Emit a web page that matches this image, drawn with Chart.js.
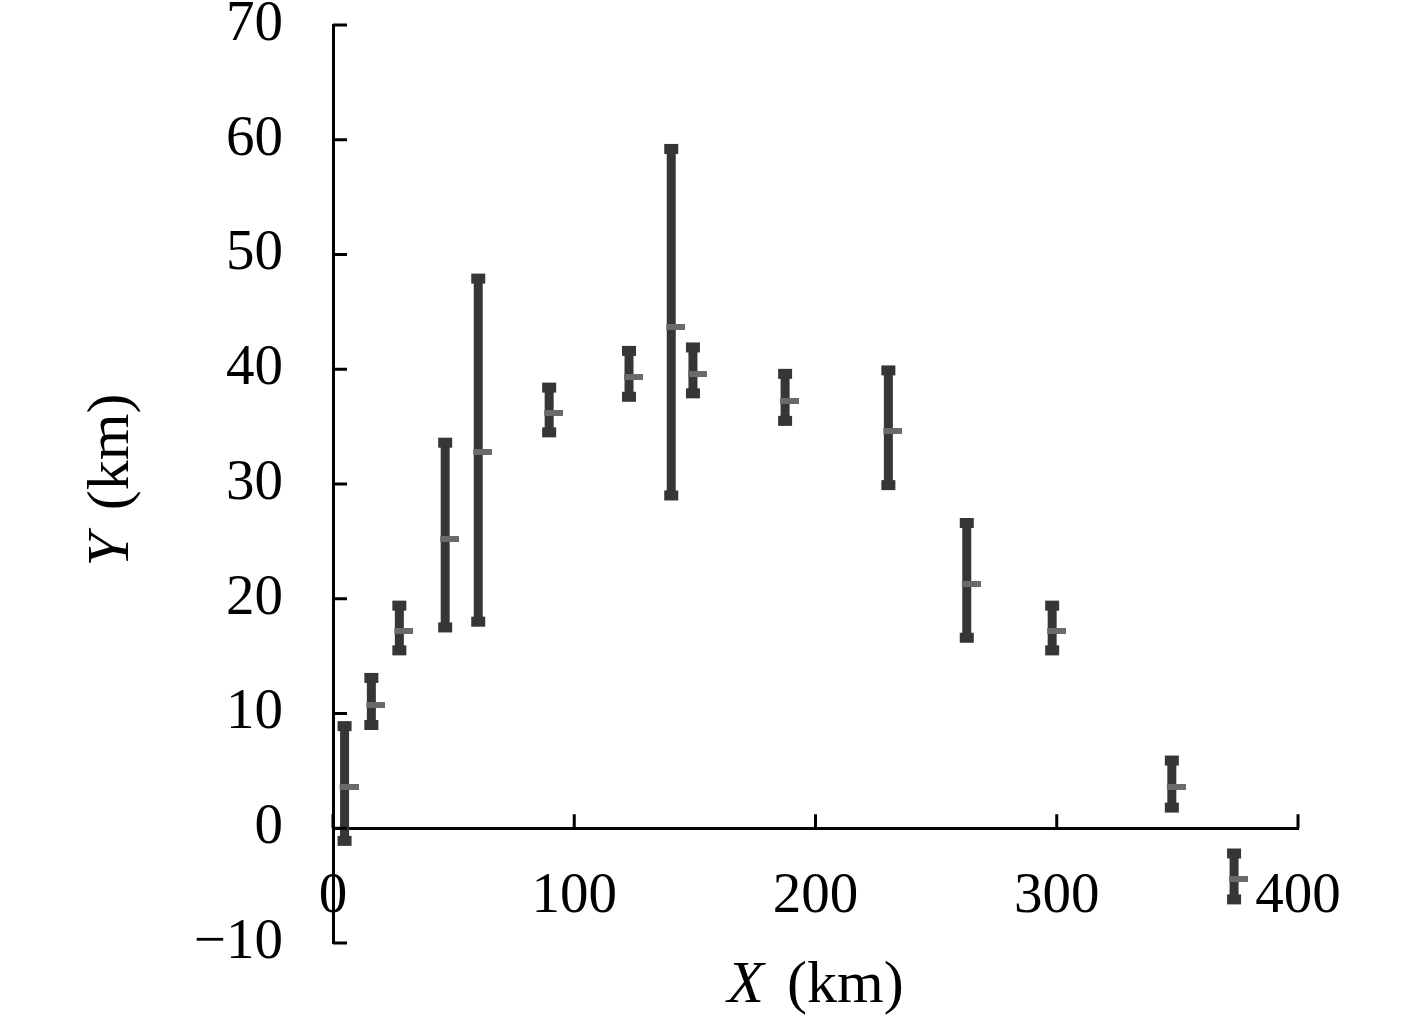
<!DOCTYPE html>
<html>
<head>
<meta charset="utf-8">
<script src="https://cdn.jsdelivr.net/npm/chart.js@4"></script>
<style>
  html, body { margin: 0; padding: 0; background: #fff; }
  canvas { display: block; }
</style>
</head>
<body>
<canvas id="err-chart" width="1417" height="1023"></canvas>
<script>
// positions along X (km) and the estimated Y (km) with its range
const xKm = [4.8, 15.9, 27.5, 46.5, 60.2, 89.6, 122.7, 140.2, 149.2, 187.4, 230.2, 262.7, 298.1, 347.7, 373.5];
const yMean = [3.6, 10.7, 17.2, 25.2, 32.8, 36.2, 39.3, 43.7, 39.6, 37.2, 34.6, 21.3, 17.2, 3.6, -4.4];
const yHigh = [8.9, 13.1, 19.4, 33.6, 47.9, 38.4, 41.6, 59.2, 41.9, 39.6, 39.9, 26.6, 19.4, 5.9, -2.2];
const yLow = [-1.1, 9.0, 15.5, 17.5, 18.0, 34.5, 37.6, 29.0, 37.9, 35.5, 29.9, 16.6, 15.5, 1.8, -6.2];

const xTicks = [0, 100, 200, 300, 400];
const yTicks = [-10, 0, 10, 20, 30, 40, 50, 60, 70];

const SERIF = "'Liberation Serif', 'DejaVu Serif', serif";
const barColor = '#363636';
const meanColor = '#6a6a6a';

// mean marker: short dash a little to the right of the bar
const dash = document.createElement('canvas');
dash.width = 28; dash.height = 6;
(function () {
	const c = dash.getContext('2d');
	c.fillStyle = meanColor;
	c.fillRect(9, 0, 19, 6);
})();

const errorBars = {
	id: 'errorBars',
	beforeDatasetsDraw(chart) {
		const ctx = chart.ctx, xs = chart.scales.x, ys = chart.scales.y;
		ctx.save();
		ctx.fillStyle = barColor;
		for (let i = 0; i < xKm.length; i++) {
			const px = xs.getPixelForValue(xKm[i]);
			const top = ys.getPixelForValue(yHigh[i]);
			const bot = ys.getPixelForValue(yLow[i]);
			ctx.fillRect(px - 4.5, top, 9, bot - top);
			ctx.fillRect(px - 7, top - 5, 14, 10);
			ctx.fillRect(px - 7, bot - 5, 14, 10);
		}
		ctx.restore();
	}
};

// inward tick marks and the two axis titles
const axisDecor = {
	id: 'axisDecor',
	afterDraw(chart) {
		const ctx = chart.ctx, xs = chart.scales.x, ys = chart.scales.y;
		const x0 = xs.getPixelForValue(0), y0 = ys.getPixelForValue(0);
		ctx.save();
		ctx.strokeStyle = '#000';
		ctx.lineWidth = 3;
		ctx.beginPath();
		yTicks.forEach(v => {
			const py = ys.getPixelForValue(v);
			ctx.moveTo(x0, py); ctx.lineTo(x0 + 14, py);
		});
		xTicks.forEach(v => {
			const px = xs.getPixelForValue(v);
			ctx.moveTo(px, y0); ctx.lineTo(px, y0 - 14);
		});
		ctx.stroke();

		ctx.fillStyle = '#000';
		ctx.textBaseline = 'alphabetic';
		function mixed(letter, cx, cy, rot) {
			ctx.save();
			ctx.translate(cx, cy);
			ctx.rotate(rot);
			ctx.font = 'italic 60px ' + SERIF;
			const w1 = ctx.measureText(letter).width;
			ctx.font = '60px ' + SERIF;
			const rest = ' (km)';
			const w2 = ctx.measureText(rest).width + 8;
			let sx = -(w1 + w2) / 2;
			ctx.font = 'italic 60px ' + SERIF;
			ctx.fillText(letter, sx, 0);
			ctx.font = '60px ' + SERIF;
			ctx.fillText(rest, sx + w1 + 8, 0);
			ctx.restore();
		}
		mixed('X', (xs.left + xs.right) / 2, 1002, 0);
		mixed('Y', 128, 480, -Math.PI / 2);
		ctx.restore();
	}
};

const tickFont = { family: SERIF, size: 57, lineHeight: 0.8 };

new Chart(document.getElementById('err-chart'), {
	type: 'scatter',
	data: {
		datasets: [{
			label: 'Y (km)',
			data: xKm.map((x, i) => ({ x: x, y: yMean[i] })),
			pointStyle: dash,
			pointRadius: 10,
			pointHoverRadius: 10
		}]
	},
	plugins: [errorBars, axisDecor],
	options: {
		responsive: false,
		devicePixelRatio: 1,
		animation: false,
		layout: { padding: { top: 25, left: 0, right: 119, bottom: 80 } },
		plugins: { legend: { display: false }, tooltip: { enabled: false } },
		scales: {
			x: {
				type: 'linear', min: 0, max: 400,
				position: { y: 0 },
				afterBuildTicks(scale) { scale.ticks = xTicks.map(v => ({ value: v })); },
				ticks: { font: tickFont, color: '#000', padding: 0, maxRotation: 0 },
				// the outward tick space is left empty; short ticks point inward (plugin)
				grid: { display: true, drawOnChartArea: false, drawTicks: true, tickLength: 46, tickColor: 'rgba(0,0,0,0)' },
				border: { display: true, color: '#000', width: 3 }
			},
			y: {
				type: 'linear', min: -10, max: 70,
				position: 'left',
				afterFit(scale) { scale.width = 333; },
				afterBuildTicks(scale) { scale.ticks = yTicks.map(v => ({ value: v })); },
				ticks: {
					font: tickFont, color: '#000', padding: 0,
					callback: v => v < 0 ? '\u2212' + Math.abs(v) : String(v)
				},
				grid: { display: true, drawOnChartArea: false, drawTicks: true, tickLength: 50, tickColor: 'rgba(0,0,0,0)' },
				border: { display: true, color: '#000', width: 3 }
			}
		}
	}
});
</script>
</body>
</html>
